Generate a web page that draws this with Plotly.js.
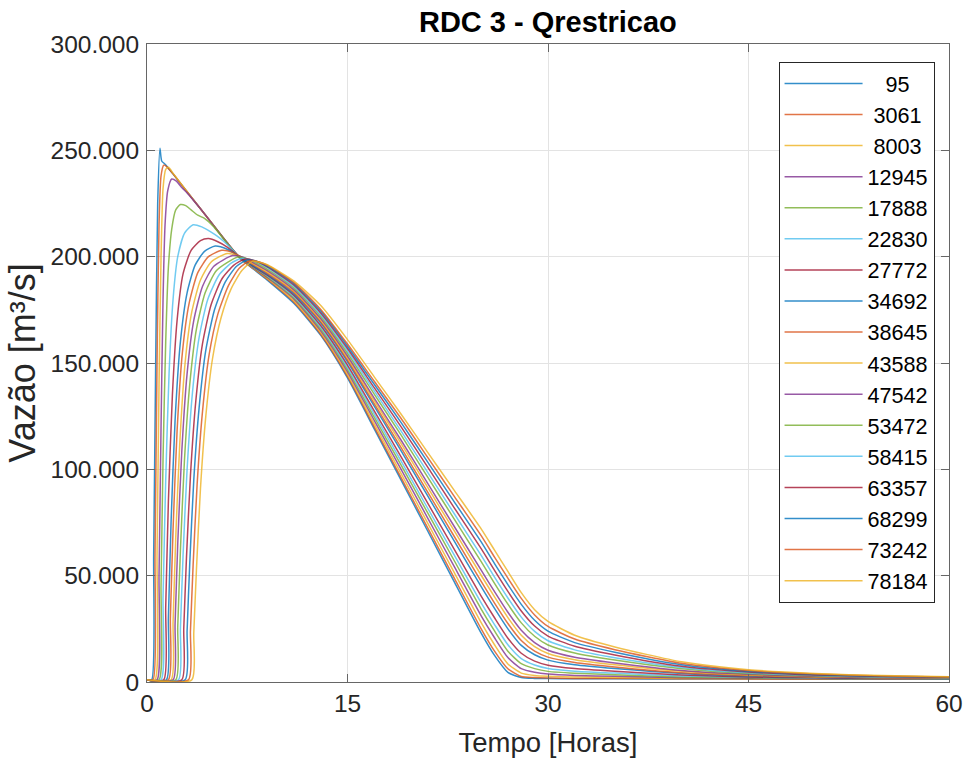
<!DOCTYPE html>
<html>
<head>
<meta charset="utf-8">
<script src="https://cdn.plot.ly/plotly-3.0.1.min.js"></script>
<style>html,body{margin:0;padding:0;background:#fff;}#chart{width:968px;height:765px;}</style>
</head>
<body>
<div id="chart"></div>
<script>
// Legend labels (distances), padded as in the original legend
const labels = ['   95', ' 3061', ' 8003', '12945', '17888', '22830', '27772', '34692', '38645',
                '43588', '47542', '53472', '58415', '63357', '68299', '73242', '78184'];

// Common late time grid [h]
const tLate = [9, 11, 13, 15, 17, 19, 21, 23, 25, 26, 27, 28, 29, 30, 32, 35, 40, 45, 50, 55, 60];

// Flow values in thousands of m3/s
const tE95 = [0, 0.35, 0.5, 0.65, 0.8, 0.97, 1.1, 1.35, 2, 3, 4, 5, 6, 7, 8];
const qE95 = [1, 1, 60, 150, 225, 251, 245, 243.5, 238.5, 230.5, 222.5, 214.5, 206.5, 199, 194];
const qL95 = [189, 178, 163, 143, 119, 95, 71, 47, 23, 12.5, 4.5, 2.1, 1.7, 1.6, 1.5, 1.5, 1.4, 1.4, 1.3, 1.3, 1.3];

const tE3061 = [0, 0.45, 0.6, 0.75, 0.9, 1.05, 1.25, 1.45, 2, 3, 4, 5, 6, 7, 8];
const qE3061 = [1, 1, 60, 150, 215, 238, 243, 242.5, 238.5, 230.5, 222.5, 214.5, 206.5, 199, 194.2];
const qL3061 = [189.4, 178.6, 163.5, 143.7, 120, 96.2, 72.5, 48.7, 25, 14.5, 6.2, 2.6, 2.1, 1.9, 1.7, 1.7, 1.5, 1.45, 1.35, 1.35, 1.35];

const tE8003 = [0, 0.6, 0.75, 0.9, 1.05, 1.2, 1.4, 1.6, 2, 3, 4, 5, 6, 7, 8];
const qE8003 = [1, 1, 60, 140, 200, 232, 241, 242, 238.8, 230.6, 222.5, 214.5, 206.5, 199.1, 194.4];
const qL8003 = [189.8, 179.2, 164.3, 144.7, 121.4, 98.1, 74.7, 51.3, 27.9, 17.5, 8.5, 4.2, 3.1, 2.7, 2.3, 2.1, 1.7, 1.6, 1.4, 1.37, 1.35];

const tE12945 = [0, 0.75, 0.9, 1.05, 1.2, 1.35, 1.55, 1.85, 2.2, 2.6, 3, 4, 5, 6, 7, 8];
const qE12945 = [1, 1, 50, 120, 180, 215, 231, 236.5, 235.5, 232.5, 230, 222.5, 214.5, 206.5, 199.2, 194.6];
const qL12945 = [190.2, 180, 165.1, 145.8, 123, 100.1, 77.1, 54.1, 31.1, 20.8, 11.5, 6.3, 4.6, 3.75, 3.1, 2.7, 2.05, 1.75, 1.5, 1.45, 1.4];

const tE17888 = [0, 0.9, 1.05, 1.2, 1.4, 1.6, 1.85, 2.15, 2.5, 2.9, 3.3, 3.8, 4.3, 5, 6, 7, 8];
const qE17888 = [1, 1, 45, 105, 160, 195, 213, 222, 224.5, 224, 222, 219.5, 218, 214, 206.3, 199.2, 194.8];
const qL17888 = [190.6, 180.6, 166, 146.9, 124.5, 102.1, 79.5, 56.9, 34.3, 24, 14.5, 8.6, 6.3, 5.0, 4.1, 3.4, 2.4, 2.0, 1.65, 1.5, 1.45];

const tE22830 = [0, 1.05, 1.2, 1.4, 1.65, 1.95, 2.3, 2.8, 3.45, 4.1, 4.8, 5.5, 6.2, 7, 8];
const qE22830 = [1, 1, 40, 95, 145, 180, 200, 211, 215, 214, 211.5, 208.5, 204.5, 199.3, 195];
const qL22830 = [191, 181.2, 166.8, 147.9, 126, 104, 81.7, 59.5, 37.2, 27, 17.5, 11, 8, 6.4, 5.1, 4.2, 2.8, 2.2, 1.8, 1.6, 1.5];

const tE27772 = [0, 1.25, 1.4, 1.6, 1.9, 2.25, 2.7, 3.3, 4, 4.6, 5.3, 6, 7, 8];
const qE27772 = [1, 1, 35, 85, 135, 170, 192, 203, 207.5, 208.5, 207, 204.5, 199.5, 195.2];
const qL27772 = [191.3, 181.8, 167.6, 149, 127.5, 106, 84.1, 62.3, 40.4, 30.2, 20.6, 13.5, 9.8, 7.9, 6.3, 5.0, 3.3, 2.4, 1.95, 1.7, 1.6];

const tE34692 = [0, 1.45, 1.6, 1.8, 2.1, 2.5, 3, 3.6, 4.3, 5.1, 6, 7, 8];
const qE34692 = [1, 1, 30, 75, 123, 160, 183, 196, 202.5, 205, 203.5, 199.7, 195.5];
const qL34692 = [191.7, 182.5, 168.8, 150.6, 129.7, 108.8, 87.5, 66.1, 44.8, 34.6, 25, 17.2, 12.8, 10.3, 8.1, 6.3, 4.0, 2.8, 2.2, 1.85, 1.7];

const tE38645 = [0, 1.6, 1.75, 1.95, 2.25, 2.65, 3.15, 3.8, 4.6, 5.6, 6.4, 7.2, 8];
const qE38645 = [1, 1, 30, 72, 118, 155, 178, 192.5, 200, 203, 202, 199.3, 196];
const qL38645 = [192.2, 183.2, 169.4, 151.4, 130.9, 110.3, 89.3, 68.3, 47.3, 37.1, 27.5, 19.5, 14.5, 11.7, 9.2, 7.1, 4.4, 3.05, 2.3, 1.95, 1.75];

const tE43588 = [0, 1.8, 1.95, 2.15, 2.45, 2.85, 3.35, 4, 4.8, 6, 7, 8];
const qE43588 = [1, 1, 28, 68, 112, 150, 174, 189, 197.5, 201.5, 200, 196.5];
const qL43588 = [192.8, 183.8, 170.2, 152.4, 132.3, 112.2, 91.5, 70.9, 50.2, 40, 30.3, 22, 16.6, 13.4, 10.5, 8.1, 5.0, 3.3, 2.5, 2.05, 1.85];

const tE47542 = [0, 1.95, 2.1, 2.3, 2.6, 3, 3.5, 4.15, 5, 6.4, 7.2, 8];
const qE47542 = [1, 1, 27, 65, 108, 145, 170, 186, 195.5, 200.5, 199.8, 197];
const qL47542 = [193.4, 184.4, 170.9, 153.3, 133.5, 113.8, 93.4, 73, 52.6, 42.5, 32.8, 24.3, 18.5, 14.9, 11.6, 8.9, 5.4, 3.6, 2.65, 2.15, 1.9];

const tE53472 = [0, 2.15, 2.3, 2.5, 2.8, 3.2, 3.7, 4.35, 5.2, 6.8, 7.5, 8];
const qE53472 = [1, 1, 26, 62, 104, 140, 166, 183, 193.5, 199.8, 199, 197.6];
const qL53472 = [194.1, 185.2, 171.9, 154.6, 135.4, 116.2, 96.3, 76.5, 56.6, 46.4, 36.6, 27.8, 21.5, 17.4, 13.6, 10.3, 6.2, 4.0, 2.9, 2.3, 2.0];

const tE58415 = [0, 2.35, 2.5, 2.7, 3, 3.4, 3.9, 4.55, 5.4, 6.3, 7.1, 8];
const qE58415 = [1, 1, 25, 60, 100, 136, 162, 180, 191.5, 197, 199.2, 198];
const qL58415 = [194.8, 185.9, 172.7, 155.7, 136.9, 118.1, 98.6, 79, 59.5, 49.3, 39.5, 30.5, 23.8, 19.4, 15.1, 11.4, 6.8, 4.3, 3.1, 2.4, 2.1];

const tE63357 = [0, 2.6, 2.75, 2.95, 3.25, 3.65, 4.15, 4.8, 5.6, 6.5, 7.3, 8];
const qE63357 = [1, 1, 25, 58, 97, 132, 159, 177.5, 189.5, 196, 198.8, 198.2];
const qL63357 = [195.2, 186.6, 173.5, 156.8, 138.4, 120.1, 101, 81.8, 62.7, 52.5, 42.6, 33.4, 26.3, 21.6, 16.8, 12.7, 7.4, 4.7, 3.3, 2.55, 2.2];

const tE68299 = [0, 2.85, 3, 3.2, 3.5, 3.9, 4.4, 5.05, 5.85, 6.7, 7.5, 8.2];
const qE68299 = [1, 1, 24, 56, 95, 129, 156, 175, 188, 195.5, 198.4, 197.9];
const qL68299 = [195.6, 187.2, 174.4, 157.9, 140, 122.1, 103.4, 84.6, 65.9, 55.7, 45.8, 36.5, 29, 23.9, 18.5, 14, 8.1, 5.05, 3.55, 2.7, 2.3];

const tE73242 = [0, 3.1, 3.25, 3.45, 3.75, 4.15, 4.65, 5.3, 6.1, 6.9, 7.7, 8.4];
const qE73242 = [1, 1, 24, 55, 93, 127, 154, 173, 186.5, 194.5, 198.1, 197.5];
const qL73242 = [196, 187.8, 175.2, 158.9, 141.4, 124, 105.6, 87.2, 68.8, 58.7, 48.8, 39.3, 31.5, 26.1, 20.2, 15.2, 8.8, 5.4, 3.8, 2.85, 2.4];

const tE78184 = [0, 3.35, 3.5, 3.7, 4, 4.4, 4.9, 5.55, 6.3, 7.1, 7.9, 8.5];
const qE78184 = [1, 1, 23, 53, 91, 125, 152, 171.5, 185, 193.5, 197.9, 197.2];
const qL78184 = [196.2, 188.5, 177, 161, 143.5, 126, 108, 90, 72, 62, 52, 42, 34, 28.5, 22, 16.5, 9.5, 5.8, 4, 3, 2.5];

const yTickVals = [0, 50, 100, 150, 200, 250, 300];
const yTickText = ['0', '50.000', '100.000', '150.000', '200.000', '250.000', '300.000'];
const xTickVals = [0, 15, 30, 45, 60];

const colors = ['#0072BD', '#D95319', '#EDB120', '#7E2F8E', '#77AC30', '#4DBEEE', '#A2142F'];

const series = [
  [tE95, qE95, qL95], [tE3061, qE3061, qL3061], [tE8003, qE8003, qL8003],
  [tE12945, qE12945, qL12945], [tE17888, qE17888, qL17888], [tE22830, qE22830, qL22830],
  [tE27772, qE27772, qL27772], [tE34692, qE34692, qL34692], [tE38645, qE38645, qL38645],
  [tE43588, qE43588, qL43588], [tE47542, qE47542, qL47542], [tE53472, qE53472, qL53472],
  [tE58415, qE58415, qL58415], [tE63357, qE63357, qL63357], [tE68299, qE68299, qL68299],
  [tE73242, qE73242, qL73242], [tE78184, qE78184, qL78184]
];

const FONT = 'Liberation Sans, Arial, Helvetica, sans-serif';

const traces = series.map((s, i) => ({
  type: 'scatter',
  mode: 'lines',
  x: s[0].concat(tLate),
  y: s[1].concat(s[2]),
  name: labels[i].replace(/ /g, '\u00a0'),
  opacity: 0.8,
  line: {color: colors[i % colors.length], width: 1.5, shape: 'spline', smoothing: 0.6}
}));

const layout = {
  width: 968, height: 765,
  paper_bgcolor: '#ffffff', plot_bgcolor: '#ffffff',
  margin: {l: 147, r: 19, t: 44, b: 83},
  font: {family: FONT, color: '#262626', size: 24},
  title: {text: '<b>RDC 3 - Qrestricao</b>', font: {family: FONT, size: 29, color: '#000'},
          x: 0.566, xanchor: 'center', y: 0.971, yanchor: 'middle', xref: 'container', yref: 'container'},
  showlegend: true,
  legend: {
    x: 0.982, xanchor: 'right', y: 0.972, yanchor: 'top',
    bgcolor: '#ffffff', bordercolor: '#262626', borderwidth: 1,
    font: {family: FONT, size: 21.6, color: '#000'},
    itemwidth: 78, tracegroupgap: 0
  },
  xaxis: {
    range: [0, 60], tickvals: xTickVals, ticktext: xTickVals.map(String),
    showgrid: true, gridcolor: '#e3e3e3', gridwidth: 1,
    showline: true, linecolor: '#666', linewidth: 1, mirror: 'ticks',
    ticks: 'inside', ticklen: 8, tickcolor: '#666', zeroline: false,
    tickfont: {size: 24.5, color: '#262626'},
    title: {text: 'Tempo [Horas]', font: {size: 27.5, color: '#262626'}, standoff: 16}
  },
  yaxis: {
    range: [0, 300], tickvals: yTickVals, ticktext: yTickText,
    showgrid: true, gridcolor: '#e3e3e3', gridwidth: 1,
    showline: true, linecolor: '#666', linewidth: 1, mirror: 'ticks',
    ticks: 'inside', ticklen: 8, tickcolor: '#666', zeroline: false,
    tickfont: {size: 24.5, color: '#262626'},
    ticklabelstandoff: 2,
    title: {text: 'Vazão [m³/s]', font: {size: 36, color: '#262626'}, standoff: 3}
  }
};

Plotly.newPlot('chart', traces, layout, {displayModeBar: false, staticPlot: true});
</script>
</body>
</html>
